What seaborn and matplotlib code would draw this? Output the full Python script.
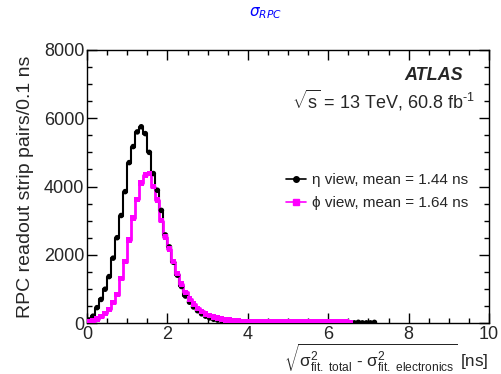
import numpy as np
import pandas as pd
import matplotlib
matplotlib.use("Agg")
import matplotlib.pyplot as plt
from matplotlib.lines import Line2D
import seaborn as sns

# ---- data (counts per 0.1 ns bin) ----
bin_width = 0.1
eta_counts = [90, 200, 450, 690, 990, 1360, 1900, 2500, 3150, 3850,
              4700, 5170, 5600, 5750, 5550, 5000, 4380, 3890, 3300, 2580,
              2230, 1780, 1400, 1070, 790, 610, 470, 360, 270, 200,
              150, 110, 85, 65, 50, 40, 32, 26, 21, 17,
              14, 12, 10, 9, 8, 7, 6, 6, 5, 5,
              5, 4, 4, 20, 4, 25, 4, 4, 22, 4,
              20, 4, 22, 4, 18, 4, 4, 20, 4, 4,
              4, 18]
phi_counts = [30, 60, 110, 190, 280, 400, 600, 830, 1300, 1800,
              2430, 3070, 3620, 4100, 4340, 4380, 4000, 3600, 3000, 2520,
              2170, 1800, 1450, 1150, 900, 700, 550, 430, 340, 270,
              215, 170, 140, 115, 95, 80, 68, 58, 50, 44,
              40, 38, 36, 35, 34, 33, 32, 31, 30, 30,
              29, 28, 28, 27, 27, 26, 26, 25, 25, 24,
              24, 23, 23, 22, 22, 21]
series_labels = ["\u03b7 view, mean = 1.44 ns", "\u03d5 view, mean = 1.64 ns"]
series_colors = ["black", "#ff00ff"]
x_ticks = [0, 2, 4, 6, 8, 10]
y_ticks = [0, 2000, 4000, 6000, 8000]

sns.set_theme(style="ticks")
plt.rcParams["font.family"] = ["Liberation Sans", "DejaVu Sans"]
plt.rcParams["mathtext.fontset"] = "custom"
plt.rcParams["mathtext.rm"] = "Liberation Sans"
plt.rcParams["mathtext.it"] = "Liberation Sans:italic"
plt.rcParams["mathtext.bf"] = "Liberation Sans:bold"

fig = plt.figure(figsize=(5.01, 3.74), dpi=100)
ax = fig.add_axes([87/501, 1-323/374, (489-87)/501, (323-50)/374])

def frame(counts):
    n = len(counts)
    centers = (np.arange(n) + 0.5) * bin_width
    return pd.DataFrame({"x": centers, "y": np.asarray(counts, dtype=float)})

df_eta = frame(eta_counts)
df_phi = frame(phi_counts)

sns.histplot(data=df_eta, x="x", weights="y", binwidth=bin_width,
             binrange=(0, len(eta_counts) * bin_width), element="step",
             fill=False, color=series_colors[0], linewidth=1.5, ax=ax)
sns.scatterplot(data=df_eta, x="x", y="y", marker="o", s=16,
                color=series_colors[0], edgecolor="none", ax=ax, zorder=3)
sns.histplot(data=df_phi, x="x", weights="y", binwidth=bin_width,
             binrange=(0, len(phi_counts) * bin_width), element="step",
             fill=False, color=series_colors[1], linewidth=2.0, ax=ax)
sns.scatterplot(data=df_phi, x="x", y="y", marker="s", s=16,
                color=series_colors[1], edgecolor="none", ax=ax, zorder=4)

ax.set_xlim(0, 10)
ax.set_ylim(0, 8000)
ax.set_xticks(x_ticks)
ax.set_yticks(y_ticks)
ax.set_xticks(np.arange(0, 10.01, 0.5), minor=True)
ax.set_yticks(np.arange(0, 8001, 500), minor=True)
ax.tick_params(which="both", direction="in", top=True, right=True,
               labelsize=13, width=1, color="black")
ax.tick_params(which="major", length=7, pad=2)
ax.tick_params(which="minor", length=3.5)
for s in ax.spines.values():
    s.set_linewidth(1)
    s.set_color("black")

ax.set_ylabel("RPC readout strip pairs/0.1 ns", fontsize=14, labelpad=7)
ax.set_xlabel(r"$\sqrt{\mathrm{\sigma^2_{fit.\ total}}\ \text{-}\ \mathrm{\sigma^2_{fit.\ electronics}}}$ [ns]",
              fontsize=12.3, loc="right", labelpad=-1)

ax.text(0.935, 0.905, "ATLAS", transform=ax.transAxes, ha="right", va="center",
        fontsize=13, fontweight="bold", fontstyle="italic")
ax.text(0.965, 0.815, r"$\sqrt{\mathrm{s}}$ = 13 TeV, 60.8 fb$^{\text{-1}}$",
        transform=ax.transAxes, ha="right", va="center", fontsize=13)

fig.text(265/501, 1-13/374, r"$\sigma_{RPC}$", color="blue", fontsize=11,
         ha="center", va="center", math_fontfamily="dejavusans")

handles = [Line2D([], [], color=series_colors[0], marker="o", markersize=4, lw=1.2),
           Line2D([], [], color=series_colors[1], marker="s", markersize=4, lw=1.2)]
ax.legend(handles, series_labels, loc="upper left",
          bbox_to_anchor=(0.46, 0.6), frameon=False, fontsize=11,
          handlelength=1.3, handletextpad=0.4, labelspacing=0.6)

fig.savefig("out.png", dpi=100)
